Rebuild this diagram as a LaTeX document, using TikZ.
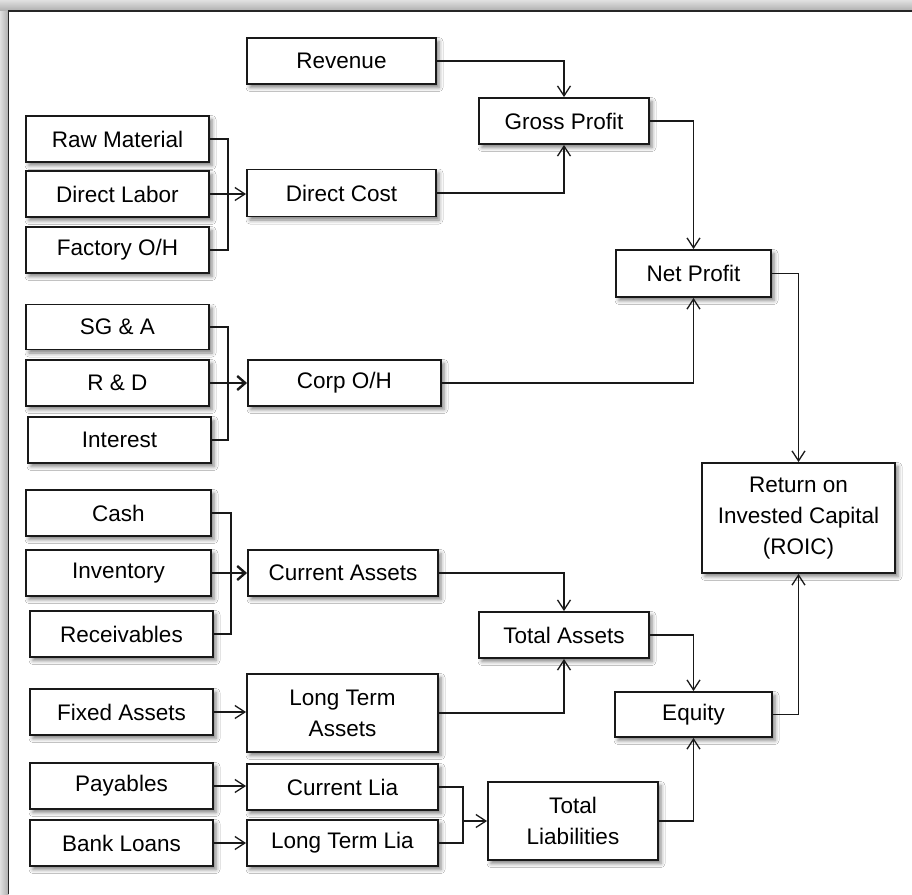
\documentclass[tikz,border=0pt]{standalone}
\usepackage{fontspec}
\setmainfont{Liberation Sans}
\usetikzlibrary{arrows.meta,shadows.blur}

\begin{document}
\begin{tikzpicture}[x=1pt,y=-1pt,
  box/.style={draw=black!90, line width=1.9pt, fill=white, inner sep=0pt,
    align=center, font=\fontsize{22.5}{31}\selectfont,
    blur shadow={shadow xshift=3pt, shadow yshift=-3.5pt,
      shadow blur radius=4pt, shadow opacity=50}},
  sz/.style 2 args={minimum width=#1, minimum height=#2},
  link/.style={draw=black!90, line width=1.3pt},
  arr/.style={link, -{Straight Barb[length=10pt,width=13pt]}},
  boldarr/.style={draw=black!90, line width=2.4pt,
    -{Straight Barb[length=8pt,width=14pt]}},
]
% page and framed panel
\useasboundingbox (0,0) rectangle (912,894);
\fill[white] (0,0) rectangle (912,894);
\shade[top color=black!12, bottom color=black!32] (0,0) rectangle (912,11);
\shade[left color=black!12, right color=black!32] (0,11) rectangle (8.5,894);
\draw[line width=1.5pt, black!85] (8.5,894) -- (8.5,11) -- (912,11);

% profit side
\node[box, sz={189pt}{46pt}] (rev)  at (341.5,61)  {Revenue};
\node[box, sz={170pt}{46pt}] (gp)   at (564,121)   {Gross Profit};
\node[box, sz={183pt}{46pt}] (raw)  at (117.5,139) {Raw Material};
\node[box, sz={183pt}{46pt}] (dl)   at (117.5,194) {Direct Labor};
\node[box, sz={183pt}{46pt}] (foh)  at (117.5,250) {Factory O/H};
\node[box, sz={189pt}{47pt}] (dc)   at (341.5,193) {Direct Cost};
\node[box, sz={155pt}{47pt}] (np)   at (693.5,273.5) {Net Profit};
\node[box, sz={183pt}{45pt}] (sga)  at (117.5,327) {SG \& A};
\node[box, sz={183pt}{46pt}] (rd)   at (117.5,383) {R \& D};
\node[box, sz={183pt}{46pt}] (int)  at (119.5,440) {Interest};
\node[box, sz={193pt}{46pt}] (corp) at (344.5,383) {Corp O/H};
\node[box, sz={193pt}{110pt}] (roic) at (798.5,518) {Return on\\Invested Capital\\(ROIC)};

% asset and liability side
\node[box, sz={185pt}{46pt}] (cash) at (118.5,513) {Cash};
\node[box, sz={185pt}{46pt}] (inv)  at (118.5,573) {Inventory};
\node[box, sz={183pt}{46pt}] (rec)  at (121.5,634) {Receivables};
\node[box, sz={190pt}{46pt}] (ca)   at (343,573)   {Current Assets};
\node[box, sz={170pt}{46pt}] (ta)   at (564,635)   {Total Assets};
\node[box, sz={183pt}{46pt}] (fa)   at (121.5,712) {Fixed Assets};
\node[box, sz={191pt}{78pt}] (lta)  at (342.5,713) {Long Term\\Assets};
\node[box, sz={183pt}{46pt}] (pay)  at (121.5,786) {Payables};
\node[box, sz={183pt}{46pt}] (bl)   at (121.5,843) {Bank Loans};
\node[box, sz={191pt}{46pt}] (cl)   at (342.5,787) {Current Lia};
\node[box, sz={191pt}{46pt}] (ltl)  at (342.5,843) {Long Term Lia};
\node[box, sz={170pt}{78pt}] (tl)   at (573,821)   {Total\\Liabilities};
\node[box, sz={157pt}{45pt}] (eq)   at (693.5,714.5) {Equity};

% cost groups feeding their totals
\draw[link] (raw.east) -- ++(18pt,0) |- (foh.east);
\draw[arr] (dl.east) -- (dl.east -| dc.west);
\draw[link] (sga.east) -- ++(18pt,0) |- (int.east);
\draw[boldarr] (rd.east) -- (rd.east -| corp.west);
\draw[link] (cash.east) -- ++(19pt,0) |- (rec.east);
\draw[boldarr] (inv.east) -- (inv.east -| ca.west);
\draw[arr] (fa.east) -- (fa.east -| lta.west);
\draw[arr] (pay.east) -- (pay.east -| cl.west);
\draw[arr] (bl.east) -- (bl.east -| ltl.west);
\draw[link] (cl.east) -- ++(24pt,0) |- (ltl.east);
\coordinate (jl) at (463,821);
\draw[arr] (jl) -- (tl.west);

% roll-ups
\draw[arr] (rev.east) -| (gp.north);
\draw[arr] (dc.east) -| (gp.south);
\draw[arr] (gp.east) -| (np.north);
\draw[arr] (corp.east) -| (np.south);
\draw[arr] (np.east) -| (roic.north);
\draw[arr] (ca.east) -| (ta.north);
\draw[arr] (lta.east) -| (ta.south);
\draw[arr] (ta.east) -| (eq.north);
\draw[arr] (tl.east) -| (eq.south);
\draw[arr] (eq.east) -| (roic.south);
\end{tikzpicture}
\end{document}
